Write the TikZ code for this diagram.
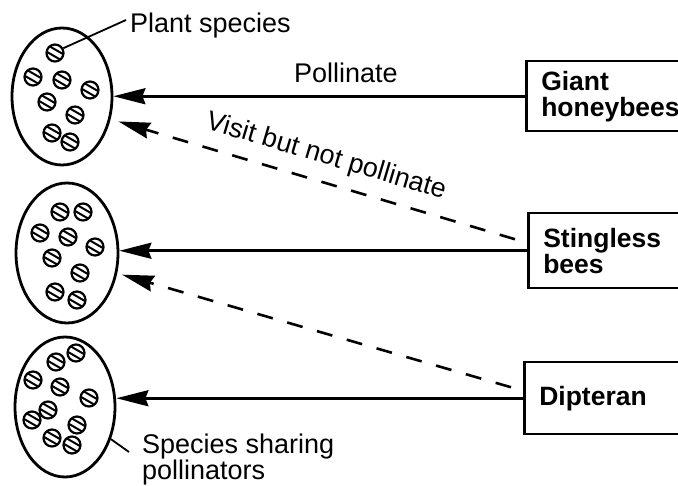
\documentclass[tikz,border=0pt]{standalone}
\usepackage{fontspec}
\setmainfont{Liberation Sans}
\usetikzlibrary{shapes.geometric,arrows.meta,calc}
\tikzset{
 blob/.style={ellipse, draw, line width=2.8pt, inner sep=0pt},
 seed/.style={circle, draw, line width=2.2pt, minimum size=17pt, inner sep=0pt,
   path picture={
     \draw[line width=2pt] ([shift={(-7.46pt,7.87pt)}]path picture bounding box.center) -- ([shift={(10.86pt,-2.73pt)}]path picture bounding box.center);
     \draw[line width=2pt] ([shift={(-10.86pt,2.73pt)}]path picture bounding box.center) -- ([shift={(7.46pt,-7.87pt)}]path picture bounding box.center);
   }},
 box/.style={rectangle, draw, line width=2.5pt, align=left, text width=150pt, minimum width=180pt, inner xsep=11pt, font=\bfseries\fontsize{26.5}{26}\selectfont},
 lbl/.style={font=\fontsize{27}{25}\selectfont, inner sep=0pt},
 arr/.style={line width=2.6pt, -{Stealth[length=32pt,width=16pt,inset=3pt]}},
 darr/.style={arr, dash pattern=on 16pt off 15pt},
 lead/.style={line width=1.8pt},
}
\begin{document}
\begin{tikzpicture}[x=1pt,y=-1pt]
\useasboundingbox (0,0) rectangle (678,486);
\clip (0,0) rectangle (678,486);
\fill[white] (0,0) rectangle (678,486);

% ellipses
\node[blob, minimum width=100pt, minimum height=137pt] (e1) at (62,96.5) {};
\node[blob, minimum width=102pt, minimum height=140pt] (e2) at (67,253) {};
\node[blob, minimum width=100pt, minimum height=140pt] (e3) at (65,407) {};

% seeds in e1
\node[seed] (p1) at (55,53) {};
\foreach \p in {(33,77),(62,80),(90,90),(47,102),(75,115),(52,133),(70,142)}
  \node[seed] at \p {};
% seeds in e2
\foreach \p in {(60,212),(83,212),(40,233),(68,237),(95,247),(52,258),(80,273),(55,292),(77,300)}
  \node[seed] at \p {};
% seeds in e3
\foreach \p in {(76,353),(56,362),(33,380),(60,387),(89,398),(48,410),(32,420),(77,425),(52,438),(72,445)}
  \node[seed] at \p {};

% boxes
\node[box, anchor=north west, minimum height=70pt] (g) at (525,60) {Giant\\honeybees};
\node[box, anchor=north west, minimum height=75pt] (s) at (527,212) {Stingless\\bees};
\node[box, anchor=north west, minimum height=72pt] (d) at (523,361) {Dipteran};

% labels
\node[lbl, anchor=base west] (pl) at (130,33) {Plant species};
\node[lbl, anchor=north west, align=left] (sp) at (142,434) {Species sharing\\pollinators};
\node[lbl, anchor=base] (pol) at (346,83) {Pollinate};
\node[lbl, rotate=-16.5] (vis) at (326,157) {Visit but not pollinate};

% leaders
\draw[lead] (p1.30) -- ($(pl.base west)+(-4,-13)$);
\draw[lead] (e3.-35) -- ($(sp.north west)+(-13,18)$);

% arrows
\draw[arr] (g.west) -- (g.west -| e1.east);
\draw[arr] (s.west) -- (s.west -| e2.east);
\draw[arr] (d.west) -- (d.west -| e3.east);
\draw[darr, shorten >=8pt] ($(s.west)+(-12,-11.5)$) -- (e1.-25);
\draw[darr, shorten >=5pt] ($(d.west)+(-12,-11)$) -- (e2.-22.5);
\end{tikzpicture}
\end{document}
